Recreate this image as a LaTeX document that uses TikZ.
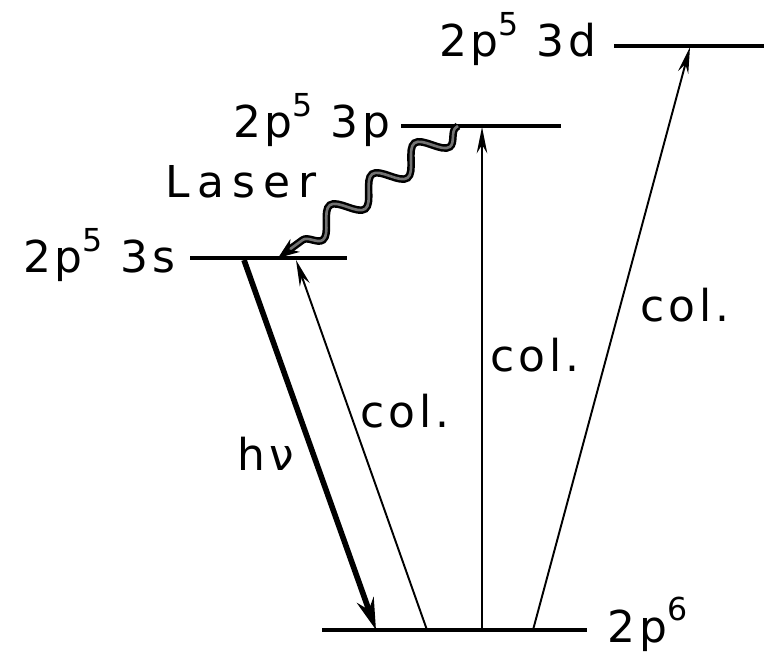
\documentclass[tikz,border=0pt]{standalone}
\usepackage{fontspec}
\setmainfont{DejaVu Sans}
\newfontfamily\lblfont[LetterSpace=9]{DejaVu Sans}
\newcommand{\lvlsup}[1]{\raisebox{0.5em}{\fontsize{18}{20}\selectfont #1}}
\usetikzlibrary{
    arrows.meta,
    positioning,
    decorations.pathmorphing
}

\begin{document}
\begin{tikzpicture}[
    x=0.02cm, y=-0.02cm,
    level/.style={line width=2.6pt},
    lbl/.style={font=\lblfont\fontsize{25}{29}\selectfont, inner sep=0pt},
    col/.style={line width=1.1pt, -{Stealth[length=15pt, width=6pt]}},
    emit/.style={line width=3.2pt, -{Stealth[length=18pt, width=10pt]}},
    laser/.style={
        draw=black,
        line width=1.4pt,
        double=black!55,
        double distance=1.5pt,
        decorate,
        decoration={snake, segment length=1.05cm, amplitude=0.24cm,
                    pre length=0.05cm, post length=0.45cm},
        -{Stealth[length=12pt, width=9pt]}
    }
]
\useasboundingbox (0,0) rectangle (764,658);

% ============================================================
% NIVELES
% ============================================================

% 2p6 (fundamental)
\coordinate (gl) at (322, 630);
\coordinate (gr) at (587, 630);
\draw[level] (gl) -- (gr);
\node[lbl, anchor=base west] (glab) at (607, 642) {2p\lvlsup{6}};

% 2p5 3s
\coordinate (sl) at (190, 258);
\coordinate (sr) at (347, 258);
\draw[level] (sl) -- (sr);
\node[lbl, anchor=base east] (slab) at (176, 273) {2p\lvlsup{5} 3s};

% 2p5 3p
\coordinate (pl) at (401, 126);
\coordinate (pr) at (561, 126);
\draw[level] (pl) -- (pr);
\node[lbl, anchor=base east] (plab) at (391, 138) {2p\lvlsup{5} 3p};

% 2p5 3d
\coordinate (dl) at (614, 46);
\coordinate (dr) at (764, 46);
\draw[level] (dl) -- (dr);
\node[lbl, anchor=base east] (dlab) at (597, 57) {2p\lvlsup{5} 3d};

% ============================================================
% TRANSICIONES
% ============================================================

% puntos sobre los niveles
\coordinate (g1) at (376, 630);
\coordinate (g2) at (427, 630);
\coordinate (g3) at (482, 630);
\coordinate (g4) at (533, 630);
\coordinate (s1) at (244, 260);
\coordinate (s2) at (296, 260);
\coordinate (s3) at (278, 258);
\coordinate (p1) at (482, 127);
\coordinate (p2) at (458, 126);
\coordinate (d1) at (690, 47);

% emision 3s -> 2p6
\draw[emit] (s1) -- (g1);

% colisiones desde 2p6
\draw[col] (g2) -- (s2);
\draw[col] (g3) -- (p1);
\draw[col] (g4) -- (d1);

% laser 3p -> 3s
\draw[laser] (p2) -- (s3);

% ============================================================
% ETIQUETAS
% ============================================================
\node[lbl, anchor=base west] (laserlab) at (165, 198)
    {\addfontfeature{LetterSpace=18}Laser};
\node[lbl, anchor=base west] (hnu)  at (237, 470) {hν};
\node[lbl, anchor=base west] (col1) at (360, 427) {col.};
\node[lbl, anchor=base west] (col2) at (490, 372) {col.};
\node[lbl, anchor=base west] (col3) at (640, 322) {col.};

\end{tikzpicture}
\end{document}
